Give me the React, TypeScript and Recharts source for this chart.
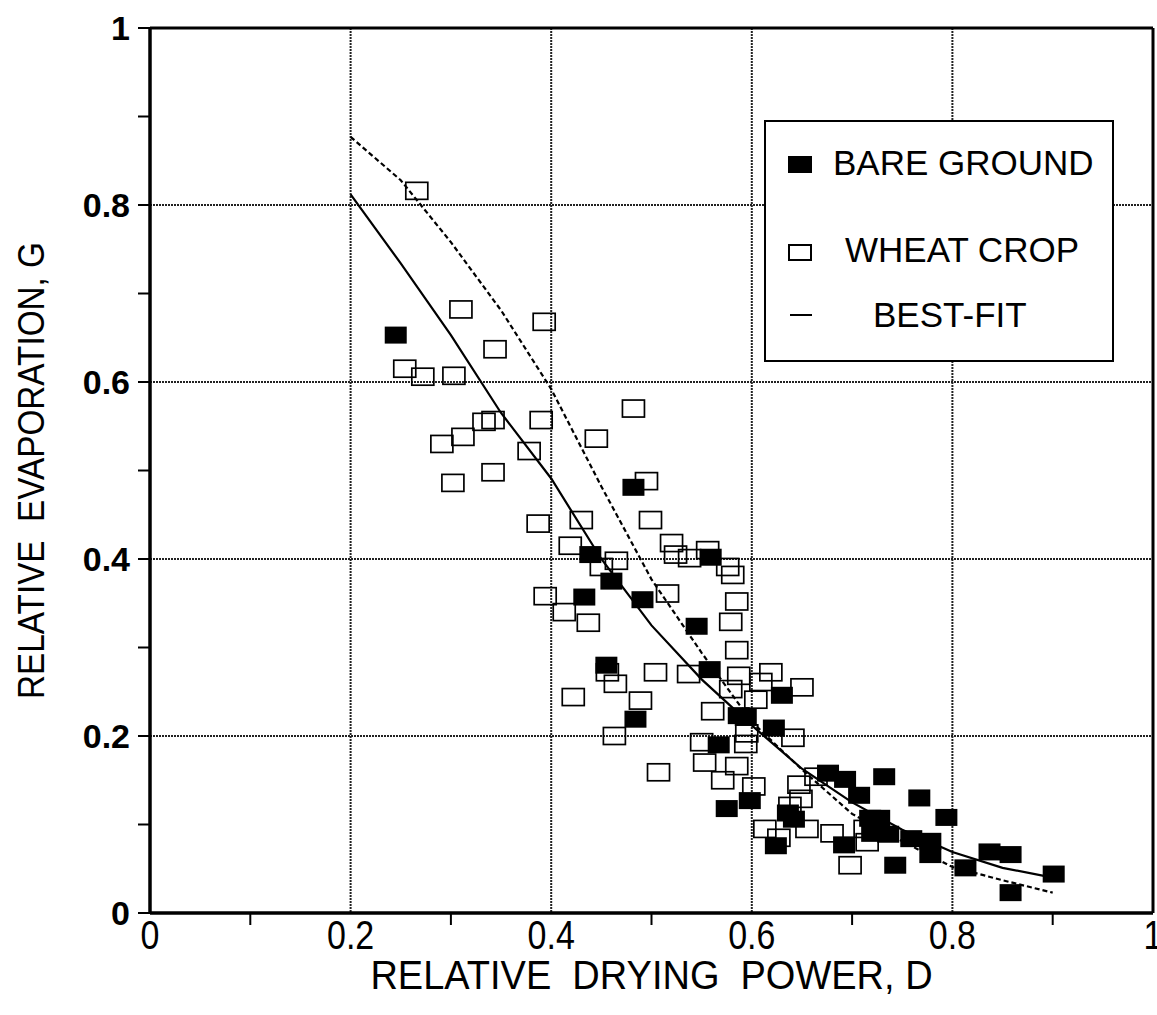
import React from "react";
import {
    ComposedChart,
    Scatter,
    Line,
    XAxis,
    YAxis,
    CartesianGrid,
    ReferenceLine,
} from "recharts";

// bare ground plots, [D, G]
const bareGround = [
    [0.245, 0.653], [0.482, 0.481], [0.439, 0.405], [0.559, 0.402], [0.46, 0.375],
    [0.491, 0.354], [0.433, 0.357], [0.545, 0.324], [0.455, 0.28], [0.558, 0.275],
    [0.63, 0.246], [0.587, 0.223], [0.594, 0.221], [0.484, 0.219], [0.622, 0.209],
    [0.567, 0.19], [0.676, 0.158], [0.693, 0.151], [0.732, 0.154], [0.707, 0.133],
    [0.767, 0.13], [0.575, 0.118], [0.598, 0.127], [0.636, 0.113], [0.642, 0.106],
    [0.794, 0.108], [0.718, 0.107], [0.727, 0.107], [0.72, 0.09], [0.736, 0.089],
    [0.759, 0.084], [0.778, 0.081], [0.778, 0.066], [0.624, 0.076], [0.692, 0.077],
    [0.743, 0.054], [0.813, 0.051], [0.837, 0.069], [0.858, 0.066], [0.858, 0.023],
    [0.901, 0.044],
];

// wheat crop plots, [D, G]
const wheatCrop = [
    [0.266, 0.816], [0.31, 0.682], [0.393, 0.668], [0.344, 0.637], [0.254, 0.615],
    [0.272, 0.606], [0.303, 0.607], [0.342, 0.557], [0.333, 0.555], [0.39, 0.557],
    [0.312, 0.538], [0.291, 0.53], [0.378, 0.522], [0.482, 0.57], [0.445, 0.536],
    [0.342, 0.498], [0.302, 0.486], [0.495, 0.488], [0.387, 0.44], [0.43, 0.444],
    [0.499, 0.444], [0.419, 0.415], [0.465, 0.398], [0.45, 0.391], [0.394, 0.358],
    [0.413, 0.34], [0.437, 0.328], [0.516, 0.361], [0.52, 0.418], [0.524, 0.405],
    [0.538, 0.401], [0.556, 0.41], [0.576, 0.391], [0.581, 0.382], [0.585, 0.352],
    [0.579, 0.329], [0.585, 0.297], [0.456, 0.272], [0.504, 0.272], [0.537, 0.27],
    [0.587, 0.268], [0.619, 0.272], [0.464, 0.259], [0.579, 0.253], [0.609, 0.261],
    [0.65, 0.255], [0.422, 0.244], [0.604, 0.241], [0.489, 0.24], [0.561, 0.228],
    [0.463, 0.2], [0.595, 0.203], [0.641, 0.198], [0.55, 0.193], [0.594, 0.191],
    [0.553, 0.17], [0.585, 0.166], [0.507, 0.159], [0.571, 0.15], [0.602, 0.143],
    [0.647, 0.145], [0.664, 0.154], [0.649, 0.129], [0.638, 0.121], [0.613, 0.095],
    [0.627, 0.085], [0.655, 0.095], [0.68, 0.09], [0.713, 0.095], [0.715, 0.08],
    [0.698, 0.054],
];

// fitted curves
const fitD = [0.2, 0.25, 0.3, 0.35, 0.4, 0.45, 0.5, 0.55, 0.6, 0.65, 0.7, 0.75, 0.8, 0.85, 0.9];
const bestFitG = [0.812, 0.734, 0.653, 0.565, 0.491, 0.4, 0.325, 0.264, 0.212, 0.163, 0.125, 0.094, 0.069, 0.051, 0.04];
const dashedG = [0.877, 0.828, 0.758, 0.681, 0.592, 0.482, 0.377, 0.294, 0.216, 0.162, 0.112, 0.081, 0.052, 0.037, 0.023];

const ticks = [0, 0.1, 0.2, 0.3, 0.4, 0.5, 0.6, 0.7, 0.8, 0.9, 1];
const gridValues = [0.2, 0.4, 0.6, 0.8];
const tickLabels: { [k: string]: string } = {
    "0": "0", "0.2": "0.2", "0.4": "0.4", "0.6": "0.6", "0.8": "0.8", "1": "1",
};

const FONT = "'Liberation Sans', Arial, Helvetica, sans-serif";

const toPoints = (arr: number[][]) => arr.map(([x, y]) => ({ x, y }));
const bareData = toPoints(bareGround);
const wheatData = toPoints(wheatCrop);
const bestFitData = fitD.map((x, i) => ({ x, y: bestFitG[i] }));
const dashedData = fitD.map((x, i) => ({ x, y: dashedG[i] }));

const FilledBox = (p: any) => (
    <rect x={p.cx - 11} y={p.cy - 8.5} width={22} height={17} fill="#000" />
);
const OpenBox = (p: any) => (
    <rect
        x={p.cx - 11}
        y={p.cy - 8.5}
        width={22}
        height={17}
        fill="none"
        stroke="#000"
        strokeWidth={1.7}
    />
);

const XTick = (props: any) => {
    const { x, y, payload } = props;
    const label = tickLabels[String(payload.value)];
    return (
        <g>
            {!label && <line x1={x} x2={x} y1={y} y2={y + 12} stroke="#000" strokeWidth={2} />}
            {label && (
                <text
                    x={0}
                    y={0}
                    textAnchor="middle"
                    fontFamily={FONT}
                    fontSize={40}
                    fill="#000"
                    transform={`translate(${x},${y + 36}) scale(0.85,1)`}
                >
                    {label}
                </text>
            )}
        </g>
    );
};

const YTick = (props: any) => {
    const { x, y, payload } = props;
    const label = tickLabels[String(payload.value)];
    return (
        <g>
            <line x1={x - 12} x2={x} y1={y} y2={y} stroke="#000" strokeWidth={2} />
            {label && (
                <text
                    x={x - 20}
                    y={y + 12}
                    textAnchor="end"
                    fontFamily={FONT}
                    fontWeight="bold"
                    fontSize={34}
                    fill="#000"
                >
                    {label}
                </text>
            )}
        </g>
    );
};

const XTitle = (props: any) => {
    const { viewBox } = props;
    const cx = viewBox.x + viewBox.width / 2;
    return (
        <text
            x={0}
            y={0}
            textAnchor="middle"
            fontFamily={FONT}
            fontSize={40}
            fill="#000"
            transform={`translate(${cx},${viewBox.y + 76}) scale(0.95,1)`}
        >
            RELATIVE&#160;&#160;DRYING&#160;&#160;POWER, D
        </text>
    );
};

const YTitle = (props: any) => {
    const { viewBox } = props;
    const cy = viewBox.y + viewBox.height / 2;
    return (
        <text
            x={0}
            y={0}
            textAnchor="middle"
            fontFamily={FONT}
            fontSize={37}
            fill="#000"
            transform={`translate(44,${cy}) rotate(-90) scale(0.9,1)`}
        >
            RELATIVE&#160;&#160;EVAPORATION, G
        </text>
    );
};

// legend box drawn over the plot
const LegendBox = () => (
    <div
        style={{
            position: "absolute",
            left: 764,
            top: 120,
            width: 350,
            height: 242,
            boxSizing: "border-box",
            border: "2.5px solid #000",
            background: "#fff",
            fontFamily: FONT,
            fontSize: 35,
            color: "#000",
        }}
    >
        <div style={{ position: "absolute", left: 22, top: 34, width: 24, height: 17, background: "#000" }} />
        <div style={{ position: "absolute", left: 67, top: 21, lineHeight: "40px" }}>BARE GROUND</div>
        <div
            style={{
                position: "absolute",
                left: 22,
                top: 122,
                width: 20,
                height: 13,
                border: "2px solid #000",
            }}
        />
        <div style={{ position: "absolute", left: 79, top: 108, lineHeight: "40px" }}>WHEAT CROP</div>
        <div style={{ position: "absolute", left: 24, top: 192, width: 22, height: 2, background: "#000" }} />
        <div style={{ position: "absolute", left: 107, top: 173, lineHeight: "40px" }}>BEST-FIT</div>
    </div>
);

export default function App() {
    return (
        <div style={{ position: "absolute", left: 0, top: 0, width: 1157, height: 1015, background: "#fff" }}>
            <ComposedChart
                width={1157}
                height={1015}
                margin={{ top: 28, right: 4, bottom: 0, left: 0 }}
            >
                <CartesianGrid
                    horizontalValues={gridValues}
                    verticalValues={gridValues}
                    stroke="#222"
                    strokeWidth={2}
                    strokeDasharray="2 1"
                />
                <XAxis
                    type="number"
                    dataKey="x"
                    domain={[0, 1]}
                    ticks={ticks}
                    interval={0}
                    height={102}
                    tickSize={0}
                    tickMargin={0}
                    tickLine={false}
                    tick={<XTick />}
                    axisLine={{ stroke: "#000", strokeWidth: 3.5 }}
                    allowDataOverflow
                    label={<XTitle />}
                />
                <YAxis
                    type="number"
                    dataKey="y"
                    domain={[0, 1]}
                    ticks={ticks}
                    interval={0}
                    width={150}
                    tickSize={0}
                    tickMargin={0}
                    tickLine={false}
                    tick={<YTick />}
                    axisLine={{ stroke: "#000", strokeWidth: 3.5 }}
                    allowDataOverflow
                    label={<YTitle />}
                />
                <ReferenceLine y={1} stroke="#000" strokeWidth={3} />
                <ReferenceLine x={1} stroke="#000" strokeWidth={3} />
                <Scatter data={wheatData} shape={<OpenBox />} isAnimationActive={false} />
                <Line
                    data={dashedData}
                    dataKey="y"
                    type="linear"
                    stroke="#000"
                    strokeWidth={2.2}
                    strokeDasharray="5 3"
                    dot={false}
                    isAnimationActive={false}
                />
                <Line
                    data={bestFitData}
                    dataKey="y"
                    type="linear"
                    stroke="#000"
                    strokeWidth={2.2}
                    dot={false}
                    isAnimationActive={false}
                />
                <Scatter data={bareData} shape={<FilledBox />} isAnimationActive={false} />
            </ComposedChart>
            <LegendBox />
        </div>
    );
}
